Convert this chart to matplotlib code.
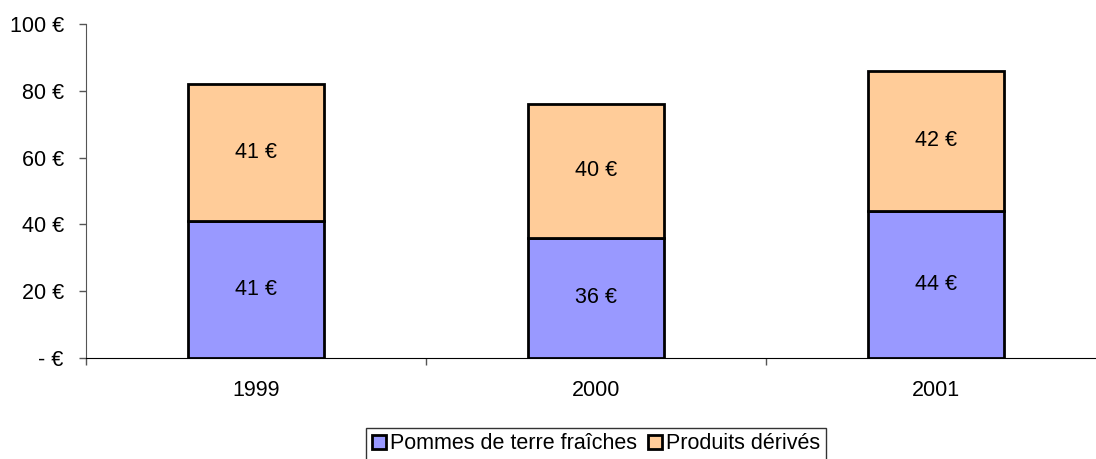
import numpy as np
import matplotlib.pyplot as plt

plt.rcParams['font.family'] = ['Liberation Sans', 'DejaVu Sans']

years = ['1999', '2000', '2001']
fraiches = [41, 36, 44]
derives = [41, 40, 42]
yticks = [0, 20, 40, 60, 80, 100]
ytick_labels = ['- €', '20 €', '40 €', '60 €', '80 €', '100 €']

fs = 15.5

fig = plt.figure(figsize=(10.96, 4.59), dpi=100)
ax = fig.add_axes([86 / 1096, 1 - 358 / 459, 1020 / 1096, 334 / 459])

x = np.arange(len(years))
b1 = ax.bar(x, fraiches, width=0.4, color='#9999FF', edgecolor='black', linewidth=2)
b2 = ax.bar(x, derives, width=0.4, bottom=fraiches, color='#FFCC99', edgecolor='black', linewidth=2)

for i in range(len(years)):
    ax.text(x[i], fraiches[i] / 2, f'{fraiches[i]} €', ha='center', va='center', fontsize=fs)
    ax.text(x[i], fraiches[i] + derives[i] / 2, f'{derives[i]} €', ha='center', va='center', fontsize=fs)

ax.set_xlim(-0.5, len(years) - 0.5)
ax.set_ylim(0, 100)
ax.set_yticks(yticks)
ax.set_yticklabels(ytick_labels, fontsize=fs)
ax.tick_params(axis='y', length=5, width=1, pad=11, color='#555555')

# ticks between categories, labels at centres
ax.set_xticks(np.arange(len(years) + 1) - 0.5)
ax.set_xticklabels([])
ax.set_xticks(x, minor=True)
ax.set_xticklabels(years, minor=True, fontsize=fs)
ax.tick_params(axis='x', which='major', length=5, width=1, color='#555555')
ax.tick_params(axis='x', which='minor', length=0, pad=16)

ax.spines['top'].set_visible(False)
ax.spines['right'].set_visible(False)
ax.spines['left'].set_color('#555555')
ax.spines['bottom'].set_color('black')

leg = fig.legend([b1, b2], ['Pommes de terre fraîches', 'Produits dérivés'],
                 loc='upper center', bbox_to_anchor=(596 / 1096, 1 - 428 / 459),
                 ncol=2, fontsize=fs, frameon=True, fancybox=False,
                 handlelength=0.65, handleheight=0.65, handletextpad=0.2,
                 columnspacing=0.5, borderpad=0.25, borderaxespad=0)
leg.get_frame().set_edgecolor('black')
leg.get_frame().set_linewidth(1)

fig.savefig('out.png', dpi=100)
